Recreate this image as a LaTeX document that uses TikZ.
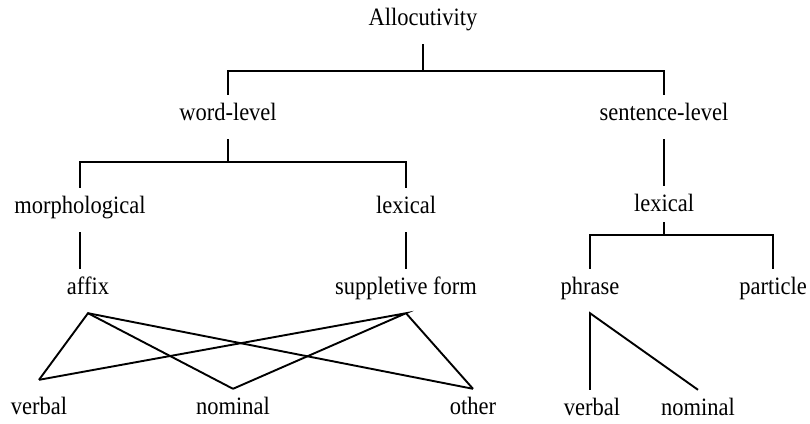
\documentclass[tikz,border=0pt]{standalone}
\usepackage{fontspec}
\setmainfont{Liberation Serif}[FakeStretch=0.9]
\usepackage{tikz}
\usetikzlibrary{calc}

\tikzset{
    etichetta/.style = {inner sep = 0pt, minimum height = 44pt, text height = 0.75em, text depth = 0.1em, font = \fontsize{25}{30}\selectfont},
    ramo/.style = {line width = 1.9pt}
}

\begin{document}
\begin{tikzpicture}[x = 1pt, y = -1pt]
    \useasboundingbox (0,0) rectangle (810,423);
    % Etichette
    \node[etichetta] (alloc) at (423,22) {Allocutivity};
    \node[etichetta] (word) at (228,117) {word-level};
    \node[etichetta] (sent) at (664,117) {sentence-level};
    \node[etichetta] (morph) at (80,210) {morphological};
    \node[etichetta] (lexa) at (406,210) {lexical};
    \node[etichetta] (lexb) at (664,208) {lexical};
    \node[etichetta] (affix) at (88,291) {affix};
    \node[etichetta] (suppl) at (406,291) {suppletive form};
    \node[etichetta] (phrase) at (590,291) {phrase};
    \node[etichetta] (part) at (773,291) {particle};
    \node[etichetta] (verba) at (39,411) {verbal};
    \node[etichetta] (noma) at (233,411) {nominal};
    \node[etichetta] (other) at (473,411) {other};
    \node[etichetta] (verbb) at (592,412) {verbal};
    \node[etichetta] (nomb) at (698,412) {nominal};
    % Rami
    \draw[ramo] (alloc.south) -- ++(0,27) coordinate (j1);
    \draw[ramo] (word.north) |- (j1) -| (sent.north);
    \draw[ramo] (word.south) -- ++(0,23) coordinate (j2);
    \draw[ramo] (morph.north) |- (j2) -| (lexa.north);
    \draw[ramo] (sent.south) -- (lexb.north);
    \draw[ramo] ([yshift=8pt]lexb.south) -- ++(0,13) coordinate (j3);
    \draw[ramo] (phrase.north) |- (j3) -| (part.north);
    \draw[ramo] (morph.south) -- (morph.south |- affix.north);
    \draw[ramo] (lexa.south) -- (suppl.north);
    % Incroci
    \foreach \s in {affix, suppl} {
        \draw[ramo] ([yshift=9pt]verba.north) -- (\s.south) -- (noma.north);
        \draw[ramo] (\s.south) -- (other.north);
    };
    \draw[ramo] (nomb.north) -- (phrase.south) -- (phrase.south |- verbb.north);
\end{tikzpicture}
\end{document}
